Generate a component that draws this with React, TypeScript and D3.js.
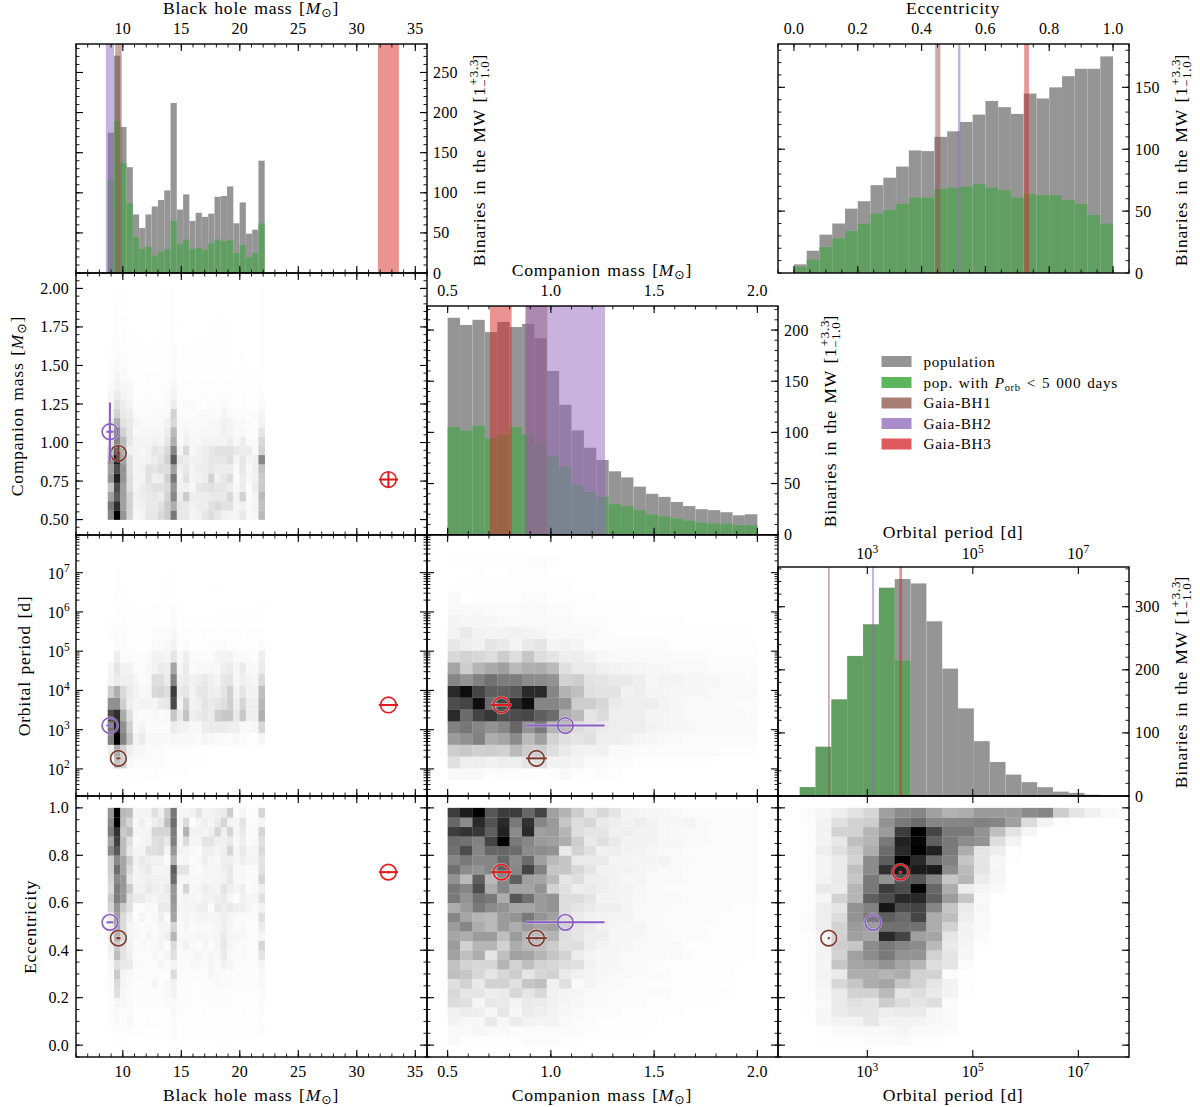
import React from "react";
import * as d3 from "d3";

// ---------- bin edges ----------
const massBins = { lo: 8.71, hi: 22.13, n: 25 };
const compBins = { lo: 0.5, hi: 2.0, n: 25 };
const periodBins = { lo: 1.72, hi: 8.02, n: 21 };
const eccBins = { lo: 0, hi: 1, n: 25 };

// ---------- 1D histograms ----------
const massPop = [175,271,182,132,73,56,73,83,91,103,212,79,98,65,75,70,74,95,96,108,62,88,49,54,140];
const massShort = [117,190,137,87,45,30,33,22,27,30,65,36,42,30,32,29,37,42,40,41,25,35,20,25,62];
const compPop = [212,205,210,198,208,203,206,192,160,127,102,85,73,62,56,47,40,37,32,28,25,24,22,19,20];
const compShort = [105.5,102,106.5,94.5,98,105.5,98,90,77.5,66.5,49,42,37,30,28,24,20,18,16,14,12,11,11,9.5,9.5];
const eccPop = [7,18,31,40,52,58,71,77,86,99,98.5,110,114.5,122,128,139,134,128.5,145,141,150,159,165,165,175];
const eccShort = [5,11,21,28,34,40,48,51,56,61,61,68,69,70,72,69,67,61,64,63,63,59,56,47,40];
const periodPop = [14,78,153,222,272,330,344,337,277,202,139,87,54,34,22,14,7,5,2,0.5];
const periodShort = [14,78,153,222,272,330,215,0,0,0,0,0,0,0,0,0,0,0,0,0];

// ---------- Gaia BH systems ----------
const bhColors = ["#7d3a2f", "#8a5cc6", "#e31a1f"];
const bandColors = ["#8c564b", "#9467bd", "#d62728"];
const legendBandColors = ["#a87d73", "#ab8ccb", "#e0595c"];
const bhMass = [9.62, 8.9, 32.7];
const bhMassErr = [0.18, 0.3, 0.82];
const bhComp = [0.93, 1.07, 0.76];
const bhCompErr = [0.05, 0.19, 0.05];
const bhLogP = [2.2686, 3.1062, 3.6288];
const bhLogPErr = [0.0002, 0.0004, 0.004];
const bhEcc = [0.451, 0.5176, 0.7291];
const bhEccErr = [0.005, 0.0022, 0.0052];
const bandMass = [[9.35, 9.91], [8.55, 9.25], [31.8, 33.6]];
const bandComp = [[0.876, 0.983], [0.88, 1.262], [0.705, 0.81]];
const bandEcc = [[0.443, 0.459], [0.514, 0.5215], [0.7216, 0.7363]];
const bandLogP = [[2.255, 2.287], [3.089, 3.127], [3.607, 3.658]];

// ---------- 2D histograms (darkness, 0–100) ----------
// mass (columns) vs companion (rows, lowest first)
const massComp = [
[55,100,50,25,6,8,15,15,22,28,60,15,14,8,10,16,20,15,10,8,8,14,5,6,35],
[60,85,45,25,8,10,14,14,18,28,40,15,14,10,12,12,18,22,18,18,8,10,5,8,32],
[45,70,45,25,10,12,14,15,12,24,55,12,28,12,12,12,14,14,14,22,8,26,4,8,35],
[30,75,45,20,8,12,15,18,18,22,50,10,10,6,15,16,18,15,15,12,6,12,3,12,28],
[50,90,50,20,8,8,18,10,12,25,60,8,18,8,10,12,25,10,15,20,4,12,6,10,28],
[45,75,50,18,8,10,18,16,20,20,45,10,15,8,12,12,15,12,12,12,4,15,5,10,32],
[50,90,45,18,8,8,10,12,16,25,70,15,12,10,10,12,15,15,15,20,8,15,8,10,55],
[35,70,40,10,8,6,10,16,14,22,55,8,22,6,10,12,14,18,18,18,14,12,12,4,25],
[20,55,35,15,8,8,8,10,8,16,40,5,10,6,6,8,8,8,8,12,6,12,4,4,22],
[15,55,25,15,5,6,6,6,6,12,35,5,8,5,5,6,6,6,10,8,4,6,3,3,15],
[15,40,18,14,8,5,5,5,5,10,22,4,5,4,5,4,6,6,10,8,5,5,3,2,8],
[10,25,14,12,4,4,3,4,5,5,25,3,3,3,4,4,4,3,8,4,3,3,2,3,8],
[6,18,12,8,3,3,3,3,3,4,12,2,4,4,3,2,3,3,4,3,2,2,1,1,4],
[6,12,8,6,2,2,3,2,2,5,8,2,2,2,2,3,2,2,3,2,1,2,1,1,3],
[4,8,6,5,2,1,2,2,3,2,6,2,2,2,2,2,2,1,2,2,1,1,1,1,2],
[3,7,4,3,1,1,2,2,2,2,4,1,1,2,1,1,1,1,1,1,1,1,1,1,2],
[3,5,4,2,1,1,1,1,1,2,4,1,1,1,1,1,1,1,1,1,1,1,1,0,1],
[2,4,3,2,1,1,1,1,1,1,3,1,1,1,1,1,1,1,1,1,0,1,0,0,1],
[2,3,2,2,1,1,1,1,1,1,3,1,1,1,1,1,1,1,1,1,0,0,0,0,1],
[1,3,2,1,1,1,0,1,1,1,2,1,0,1,1,1,1,1,1,1,0,0,0,0,1],
[1,2,2,1,1,0,0,0,1,1,2,1,0,0,0,0,1,1,1,1,0,0,0,0,1],
[1,2,2,1,0,0,0,0,1,1,2,0,0,0,0,0,1,1,1,1,0,0,0,0,1],
[1,2,1,1,0,0,0,0,1,1,2,0,0,0,0,0,0,1,1,0,0,0,0,0,1],
[1,2,1,1,0,0,0,0,1,1,2,0,0,0,0,0,0,0,0,0,0,0,0,0,1],
[1,1,1,1,0,0,0,0,1,1,2,0,0,0,0,0,0,0,0,0,0,0,0,0,1],
];
// mass vs period (rows, shortest period first)
const massPeriod = [
[0,0,2,2,2,2,2,2,1,1,1,1,1,0,0,0,0,0,0,0,0,0,0,0,0],
[2,30,25,5,3,3,3,3,3,2,2,2,2,2,1,1,0,0,0,0,0,0,0,0,0],
[10,40,25,10,6,5,3,3,3,2,2,2,2,2,1,1,1,1,1,1,1,1,1,1,1],
[55,100,55,30,8,12,5,5,5,5,6,5,5,5,4,6,5,4,3,3,5,3,2,2,6],
[60,90,50,25,5,8,3,3,3,3,12,9,8,5,5,11,12,12,12,10,10,5,5,6,22],
[75,85,40,18,5,4,4,5,4,5,28,12,30,10,12,14,12,25,28,28,13,28,10,10,38],
[50,50,25,10,6,8,8,6,12,14,75,8,25,8,10,15,12,15,18,25,10,22,10,10,35],
[25,38,20,12,8,5,6,20,22,18,80,12,15,8,13,14,10,10,15,25,8,15,8,8,32],
[8,12,10,10,6,3,4,18,18,12,55,10,12,9,10,13,10,7,14,15,6,10,8,6,20],
[6,15,8,8,3,3,5,8,12,10,42,6,12,4,5,5,6,5,10,12,6,12,5,5,12],
[2,10,3,3,2,2,3,8,8,6,15,5,10,3,3,3,3,7,8,8,4,3,3,2,10],
[1,3,3,2,1,1,1,3,4,5,8,2,3,2,2,2,2,3,3,2,1,1,1,2,3],
[2,3,3,2,1,2,2,3,3,3,6,2,2,2,1,2,2,1,2,2,2,1,2,2,2],
[2,2,2,1,1,2,2,2,2,2,3,1,1,1,1,1,1,1,1,1,1,1,1,1,1],
[0,1,1,1,1,1,1,2,2,1,3,1,0,0,0,0,0,1,1,1,1,1,1,1,2],
[0,2,1,1,0,0,0,0,1,1,1,0,0,0,0,0,0,0,0,0,0,0,0,0,0],
[0,1,1,1,0,0,0,0,1,1,1,0,0,0,0,0,1,1,1,0,0,0,0,0,0],
[0,1,0,0,0,0,0,0,0,1,1,0,0,0,0,0,0,0,0,0,0,0,0,0,0],
];
// mass vs eccentricity (rows, highest eccentricity first)
const massEcc = [
[50,100,38,35,8,8,10,20,12,30,62,8,8,10,18,8,10,12,14,28,5,8,3,3,25],
[55,100,35,25,6,12,6,12,16,35,65,8,22,3,8,12,8,14,25,10,8,18,5,5,8],
[60,85,30,35,8,8,8,25,25,25,60,6,40,10,10,8,12,25,12,25,8,15,5,5,25],
[45,80,35,20,5,8,10,20,22,15,58,8,22,8,8,18,18,12,12,15,6,12,4,6,20],
[55,72,35,15,8,8,20,20,22,8,50,10,8,6,4,12,12,8,12,25,8,15,8,8,22],
[28,55,45,28,10,15,12,10,10,5,40,6,8,4,6,12,8,6,12,12,8,12,8,8,18],
[28,65,45,22,8,12,15,8,8,10,70,18,18,6,4,8,8,8,12,15,6,6,4,5,20],
[25,55,50,15,8,10,12,10,10,10,65,8,8,6,6,8,8,8,10,15,6,6,4,5,25],
[22,60,50,30,10,10,15,12,10,15,50,6,25,6,8,12,10,8,18,12,8,12,3,6,12],
[30,60,50,20,14,14,10,8,12,12,50,6,10,8,6,10,10,12,14,8,3,10,8,8,20],
[25,50,30,20,4,4,6,4,14,14,48,8,8,8,12,12,5,15,12,15,12,12,8,5,10],
[15,48,22,12,3,8,3,6,12,5,45,6,8,6,8,8,8,8,12,8,5,5,4,5,20],
[12,45,22,8,5,4,6,4,8,8,25,5,8,5,6,6,5,8,12,8,4,6,4,4,14],
[12,40,25,8,6,3,8,5,8,12,38,6,6,6,8,8,6,8,14,8,8,6,4,4,8],
[12,30,20,10,5,6,4,5,8,4,22,5,10,6,3,8,4,8,15,8,5,5,4,4,25],
[8,35,18,12,4,4,4,6,4,8,20,5,5,6,8,5,8,6,14,6,4,5,4,4,18],
[6,20,15,15,5,4,4,4,8,5,10,4,4,6,6,5,8,5,10,8,4,4,4,4,8],
[5,30,8,6,4,4,4,4,3,3,22,4,3,3,4,3,8,5,5,4,3,3,4,2,6],
[5,22,8,5,3,3,3,8,3,6,10,3,3,2,3,3,3,6,4,5,3,3,3,3,6],
[4,20,6,5,3,3,3,3,3,6,10,3,3,2,2,3,3,3,3,3,2,2,2,2,5],
[3,8,6,4,2,3,3,3,3,5,5,3,3,2,2,2,3,3,3,3,2,2,2,2,4],
[3,5,4,4,2,2,2,2,2,2,6,2,2,2,1,2,2,2,2,2,1,2,1,1,3],
[2,5,3,6,2,1,2,2,2,1,4,1,1,1,1,1,1,1,1,1,1,1,1,1,2],
[2,3,2,2,1,2,1,1,1,1,3,1,1,1,1,1,1,1,1,1,1,1,1,1,4],
[1,2,2,1,1,1,1,1,1,1,3,1,1,1,1,1,1,1,2,1,1,1,1,1,1],
];
// companion vs period (rows, shortest period first)
const compPeriod = [
[3,3,3,1,2,2,1,1,1,3,1,1,2,1,0,0,0,0,0,0,0,0,0,0,0],
[14,8,8,7,8,8,12,14,6,6,5,3,3,2,2,1,1,1,1,1,1,0,0,0,0],
[22,24,21,22,20,30,22,22,15,10,7,6,7,3,3,2,2,2,2,2,2,2,1,1,1],
[42,46,52,35,38,48,30,40,20,14,12,14,8,8,7,5,4,3,3,2,2,2,2,2,2],
[52,56,50,45,50,62,45,55,32,30,15,12,10,8,8,8,6,5,4,4,3,3,3,3,3],
[85,60,75,80,72,72,74,65,60,35,30,12,16,8,8,8,5,5,4,3,3,3,3,3,2],
[72,75,95,60,75,85,95,50,50,45,22,22,18,10,8,8,8,6,4,3,3,3,3,2,2],
[85,95,75,65,65,68,85,85,50,33,28,14,13,13,7,8,5,5,4,4,4,3,3,3,3],
[50,45,52,58,54,54,48,48,45,20,22,13,12,10,10,8,4,6,6,4,4,4,3,3,2],
[38,22,32,36,40,30,34,35,30,14,10,10,7,6,5,5,4,4,3,3,3,2,2,2,2],
[17,20,18,15,22,15,25,15,12,8,8,6,4,3,3,3,3,3,2,2,2,1,1,1,1],
[11,8,7,12,10,5,10,12,5,6,5,2,2,2,2,2,2,2,1,1,1,1,1,1,1],
[6,10,6,5,6,7,6,5,3,3,3,3,2,1,1,1,1,1,1,1,1,1,1,1,0],
[5,4,4,4,3,3,3,3,3,3,2,2,2,1,1,1,1,1,1,0,0,0,0,0,0],
[3,3,3,2,2,2,3,3,2,2,1,1,1,1,1,0,0,0,0,0,0,0,0,0,0],
[3,0,1,1,1,1,2,2,1,1,1,1,0,0,0,0,0,0,0,0,0,0,0,0,0],
[0,1,1,1,1,1,1,1,1,1,0,0,0,0,0,0,0,0,0,0,0,0,0,0,0],
[0,0,1,0,0,1,1,1,0,0,0,0,0,0,0,0,0,0,0,0,0,0,0,0,0],
[1,1,1,1,1,1,1,2,1,0,0,0,0,0,0,0,0,0,0,0,0,0,0,0,0],
];
// companion vs eccentricity (rows, highest eccentricity first)
const compEcc = [
[78,90,100,68,78,78,62,75,40,33,22,12,17,12,6,5,4,4,3,2,2,2,2,2,2],
[62,48,85,70,85,55,82,50,42,25,15,18,10,8,6,8,6,4,4,6,3,2,2,2,2],
[78,82,80,65,88,48,85,40,42,32,15,12,12,7,8,6,6,4,3,3,3,2,2,2,2],
[60,58,52,75,100,55,50,42,40,35,22,10,14,10,6,6,6,4,4,3,3,2,2,2,2],
[58,72,50,62,62,60,48,48,45,10,20,14,7,8,6,6,4,3,3,2,2,2,2,2,2],
[50,55,50,50,62,48,60,40,30,25,10,10,10,5,5,5,5,6,3,3,2,2,2,2,2],
[58,48,45,50,65,50,75,52,25,25,18,12,7,6,6,5,4,3,3,2,2,2,2,2,2],
[45,30,65,30,50,65,40,38,30,12,15,8,8,6,4,5,3,3,3,2,2,2,2,2,2],
[55,50,72,35,50,38,38,45,20,14,8,10,8,6,6,4,3,2,2,2,2,2,2,2,2],
[55,45,58,55,35,68,58,42,45,15,16,12,6,6,5,4,3,3,3,2,2,2,2,2,2],
[35,42,55,48,45,38,38,42,45,15,12,10,8,8,5,3,3,3,2,2,2,2,2,1,1],
[50,38,32,30,42,45,55,45,40,15,10,7,6,5,6,3,3,2,2,2,2,2,1,1,1],
[42,50,35,30,42,35,42,38,40,20,12,10,7,5,4,5,3,2,2,2,2,1,1,1,1],
[38,35,42,42,28,42,32,30,32,15,12,8,8,4,4,4,3,3,2,2,2,1,1,1,1],
[42,20,32,32,20,35,30,28,22,14,15,8,6,5,4,3,3,3,3,1,1,1,1,1,1],
[40,28,35,12,28,40,38,32,25,20,9,5,4,4,3,3,3,2,3,2,1,1,1,1,1],
[27,20,18,18,32,20,28,20,18,15,14,6,4,4,3,3,2,1,1,1,1,1,1,1,0],
[28,25,18,12,18,22,12,18,20,10,7,5,4,3,3,2,2,2,1,1,1,1,1,0,0],
[14,20,10,20,20,14,25,28,7,14,3,5,3,3,2,2,1,1,1,1,1,1,0,0,0],
[17,12,12,8,10,18,12,17,7,5,5,3,3,2,2,2,2,2,1,1,1,1,1,0,0],
[16,14,5,11,10,6,10,9,7,5,4,3,3,2,2,2,1,1,1,1,1,1,0,0,0],
[7,9,8,4,11,4,9,8,6,4,3,2,2,2,1,1,1,1,1,0,0,0,0,0,0],
[6,4,4,10,4,9,6,5,6,3,2,2,1,1,1,1,1,0,0,0,0,0,0,0,0],
[3,3,4,3,3,2,2,2,2,2,2,1,1,1,1,1,0,0,0,0,0,0,0,0,0],
[3,1,1,1,1,1,2,2,2,1,1,0,0,0,0,0,0,0,0,0,0,0,0,0,0],
];
// period vs eccentricity (rows, highest eccentricity first)
const periodEcc = [
[2,4,8,13,18,40,48,50,40,33,35,42,42,42,48,50,22,12,7,3,2],
[1,6,14,20,22,45,55,60,50,50,50,52,50,40,16,6,1,0,0,0,0],
[1,6,20,20,32,42,78,100,75,55,55,45,28,13,5,0,0,0,0,0,0],
[1,6,11,28,32,55,88,98,65,55,48,45,15,6,0,0,0,0,0,0,0],
[1,8,14,22,35,60,85,100,88,55,35,12,8,1,0,0,0,0,0,0,0],
[1,5,10,20,48,65,100,85,60,52,25,12,4,1,0,0,0,0,0,0,0],
[1,5,10,28,48,82,90,90,90,48,30,12,5,0,0,0,0,0,0,0,0],
[1,6,10,25,55,45,70,68,50,25,32,9,4,0,0,0,0,0,0,0,0],
[1,10,9,32,55,78,72,98,62,35,9,5,3,0,0,0,0,0,0,0,0],
[1,5,20,32,65,72,85,85,65,42,25,3,0,0,0,0,0,0,0,0,0],
[1,8,12,45,52,92,72,75,50,25,10,4,0,0,0,0,0,0,0,0,0],
[2,8,16,45,55,65,60,75,35,28,8,3,0,0,0,0,0,0,0,0,0],
[2,8,20,42,42,58,58,58,35,20,6,3,0,0,0,0,0,0,0,0,0],
[1,6,20,40,38,85,75,40,38,12,6,2,0,0,0,0,0,0,0,0,0],
[1,6,22,25,48,55,50,48,30,10,5,1,0,0,0,0,0,0,0,0,0],
[1,6,20,40,48,55,45,45,20,12,4,0,0,0,0,0,0,0,0,0,0],
[1,5,25,38,40,45,38,32,15,12,2,0,0,0,0,0,0,0,0,0,0],
[1,6,10,35,35,32,35,20,20,2,0,0,0,0,0,0,0,0,0,0,0],
[1,5,18,25,35,38,25,20,12,6,1,0,0,0,0,0,0,0,0,0,0],
[1,4,10,20,20,30,12,15,10,6,1,0,0,0,0,0,0,0,0,0,0],
[1,3,10,14,12,22,16,12,15,2,0,0,0,0,0,0,0,0,0,0,0],
[1,4,10,12,12,8,10,10,4,3,0,0,0,0,0,0,0,0,0,0,0],
[0,4,6,6,11,6,6,6,4,3,0,0,0,0,0,0,0,0,0,0,0],
[0,1,3,3,3,3,5,3,3,2,0,0,0,0,0,0,0,0,0,0,0],
[0,1,1,1,2,2,3,1,1,0,0,0,0,0,0,0,0,0,0,0,0],
];

// ---------- tick labels ----------
const massTicks = [10, 15, 20, 25, 30, 35];
const compTicks = [0.5, 1.0, 1.5, 2.0];
const compYTicks = [0.5, 0.75, 1.0, 1.25, 1.5, 1.75, 2.0];
const eccTicks = [0, 0.2, 0.4, 0.6, 0.8, 1.0];
const periodXTicks = [3, 5, 7];
const periodYTicks = [2, 3, 4, 5, 6, 7];
const legendLabels = ["population", "pop. with", "Gaia-BH1", "Gaia-BH2", "Gaia-BH3"];

// ---------- layout ----------
const FONT = "'Liberation Serif', 'DejaVu Serif', serif";
const colX = [76, 427, 778];
const W = 351;
const rowEdges = [44, 273, 535, 796, 1057];

const xMass = d3.scaleLinear().domain([6, 36]).range([colX[0], colX[0] + W]);
const xComp = d3.scaleLinear().domain([0.4, 2.1]).range([colX[1], colX[1] + W]);
const xEcc = d3.scaleLinear().domain([-0.05, 1.05]).range([colX[2], colX[2] + W]);
const xPeriod = d3.scaleLinear().domain([1.307, 7.96]).range([colX[2], colX[2] + W]);
const yComp = d3.scaleLinear().domain([0.4, 2.1]).range([rowEdges[2], rowEdges[1]]);
const yPeriod = d3.scaleLinear().domain([1.31, 7.96]).range([rowEdges[3], rowEdges[2]]);
const yEcc = d3.scaleLinear().domain([-0.05, 1.05]).range([rowEdges[4], rowEdges[3]]);

type S = d3.ScaleLinear<number, number>;
const edges = (b: { lo: number; hi: number; n: number }) =>
  d3.range(b.n + 1).map((i) => b.lo + ((b.hi - b.lo) * i) / b.n);

const inRange = (s: S, v: number) => v >= s.domain()[0] && v <= s.domain()[1];
const linMinor = (s: S, step: number) =>
  d3.range(Math.ceil(s.domain()[0] / step), Math.floor(s.domain()[1] / step) + 1).map((k) => k * step);
const logMinor = (s: S) =>
  d3.range(1, 9).flatMap((d) => d3.range(2, 10).map((m) => d + Math.log10(m))).filter((v) => inRange(s, v));

function Frame({ x, y, xMajor, xMinor, yMajor, yMinor }: { x: S; y: S; xMajor: number[]; xMinor: number[]; yMajor: number[]; yMinor: number[] }) {
  const [l, r] = x.range();
  const [b, t] = y.range();
  const ln = (k: string, x1: number, y1: number, x2: number, y2: number, sw: number) => (
    <line key={k} x1={x1} y1={y1} x2={x2} y2={y2} stroke="#000" strokeWidth={sw} />
  );
  const out: React.ReactNode[] = [];
  xMajor.forEach((v, i) => {
    out.push(ln(`xa${i}`, x(v), b, x(v), b - 7, 1.1), ln(`xb${i}`, x(v), t, x(v), t + 7, 1.1));
  });
  xMinor.forEach((v, i) => {
    out.push(ln(`xc${i}`, x(v), b, x(v), b - 3.5, 0.9), ln(`xd${i}`, x(v), t, x(v), t + 3.5, 0.9));
  });
  yMajor.forEach((v, i) => {
    out.push(ln(`ya${i}`, l, y(v), l + 7, y(v), 1.1), ln(`yb${i}`, r, y(v), r - 7, y(v), 1.1));
  });
  yMinor.forEach((v, i) => {
    out.push(ln(`yc${i}`, l, y(v), l + 3.5, y(v), 0.9), ln(`yd${i}`, r, y(v), r - 3.5, y(v), 0.9));
  });
  return (
    <g>
      {out}
      <rect x={l} y={t} width={r - l} height={b - t} fill="none" stroke="#000" strokeWidth={1.4} />
    </g>
  );
}

function Heat({ x, y, xb, yb, rows, gamma = 1.08 }: { x: S; y: S; xb: number[]; yb: number[]; rows: number[][]; gamma?: number }) {
  const gray = d3.scalePow().exponent(gamma).domain([0, 100]).range([255, 0]);
  const cells: React.ReactNode[] = [];
  const [, xMax] = x.range();
  rows.forEach((row, j) =>
    row.forEach((v, i) => {
      if (v <= 0) return;
      const c = Math.round(gray(v));
      const x0 = x(xb[i]);
      const x1 = Math.min(x(xb[i + 1]), xMax);
      cells.push(
        <rect key={`${i}-${j}`} x={x0} y={y(yb[j + 1])} width={x1 - x0 + 0.25} height={y(yb[j]) - y(yb[j + 1]) + 0.25} fill={`rgb(${c},${c},${c})`} />
      );
    })
  );
  return <g>{cells}</g>;
}

function Bars({ x, y, xb, values, fill }: { x: S; y: S; xb: number[]; values: number[]; fill: string }) {
  return (
    <g>
      {values.map((v, i) =>
        v > 0 ? (
          <rect key={i} x={x(xb[i])} y={y(v)} width={x(xb[i + 1]) - x(xb[i])} height={y(0) - y(v)} fill={fill} stroke="#fff" strokeOpacity={0.1} strokeWidth={0.5} />
        ) : null
      )}
    </g>
  );
}

function Bands({ x, y, bands }: { x: S; y: S; bands: number[][] }) {
  return (
    <g>
      {bands.map((b, i) => (
        <rect key={i} x={x(b[0])} width={x(b[1]) - x(b[0])} y={y.range()[1]} height={y.range()[0] - y.range()[1]} fill={bandColors[i]} opacity={0.5} />
      ))}
    </g>
  );
}

function Markers({ x, y, xv, yv, xe, ye }: { x: S; y: S; xv: number[]; yv: number[]; xe: number[]; ye: number[] }) {
  return (
    <g>
      {xv.map((_, i) => {
        const cx = x(xv[i]);
        const cy = y(yv[i]);
        const segs = (stroke: string, sw: number, op: number) => (
          <g stroke={stroke} fill="none" opacity={op}>
            <line x1={x(xv[i] - xe[i])} x2={x(xv[i] + xe[i])} y1={cy} y2={cy} strokeWidth={sw + 0.4} />
            <line x1={cx} x2={cx} y1={y(yv[i] - ye[i])} y2={y(yv[i] + ye[i])} strokeWidth={sw + 0.4} />
            <circle cx={cx} cy={cy} r={7.8} strokeWidth={sw} />
          </g>
        );
        return (
          <g key={i}>
            {segs("#fff", 3, 0.45)}
            {segs(bhColors[i], 1.65, 1)}
          </g>
        );
      })}
    </g>
  );
}

const Sun = ({ fs }: { fs: number }) => (
  <>
    {"["}
    <tspan fontStyle="italic">M</tspan>
    <tspan fontSize={fs * 0.72} dy={fs * 0.18} fontFamily="'DejaVu Sans'">⊙</tspan>
    <tspan dy={-fs * 0.18}>]</tspan>
  </>
);

const LFS = 17.6;
const TFS = 16;

function XTitle({ x, y, children }: { x: number; y: number; children: React.ReactNode }) {
  return (
    <text x={x} y={y} textAnchor="middle" fontSize={LFS} letterSpacing={0.75} wordSpacing={1.5} fontFamily={FONT}>
      {children}
    </text>
  );
}
function YTitle({ x, y, children }: { x: number; y: number; children: React.ReactNode }) {
  return (
    <text transform={`translate(${x},${y}) rotate(-90)`} textAnchor="middle" fontSize={LFS} letterSpacing={0.75} wordSpacing={1.5} fontFamily={FONT}>
      {children}
    </text>
  );
}
const Tick = ({ x, y, anchor, children }: { x: number; y: number; anchor: string; children: React.ReactNode }) => (
  <text x={x} y={y} textAnchor={anchor as any} fontSize={TFS} letterSpacing={0.2} fontFamily={FONT}>
    {children}
  </text>
);

function BinariesTitle({ x, y }: { x: number; y: number }) {
  const s = 13;
  const w = 1.814 * s + 4 * 0.75;
  return (
    <YTitle x={x} y={y}>
      {"Binaries in the MW [1"}
      <tspan fontSize={s} dy={-7} dx={1}>+3.3</tspan>
      <tspan fontSize={s} dy={11} dx={-w - 1.6}>−1.0</tspan>
      <tspan dy={-4}>]</tspan>
    </YTitle>
  );
}

const topX = (ticks: number[], x: S, fmt: (v: number) => string, y: number) =>
  ticks.map((v) => <Tick key={v} x={x(v)} y={y} anchor="middle">{fmt(v)}</Tick>);
const botX = (ticks: number[], x: S, fmt: (v: number) => string) =>
  ticks.map((v) => <Tick key={v} x={x(v)} y={1077} anchor="middle">{fmt(v)}</Tick>);
const Pow = ({ x, y, e, anchor }: { x: number; y: number; e: number; anchor: string }) => (
  <Tick x={x} y={y} anchor={anchor}>
    10<tspan fontSize={11.5} dy={-6.5}>{e}</tspan>
  </Tick>
);

export default function App() {
  const mB = edges(massBins);
  const cB = edges(compBins);
  const pB = edges(periodBins);
  const eB = edges(eccBins);

  const yH1 = d3.scaleLinear().domain([0, 285.5]).range([273, 44]);
  const yH2 = d3.scaleLinear().domain([0, 223.5]).range([534.7, 306]);
  const yH3 = d3.scaleLinear().domain([0, 185]).range([273, 44]);
  const yH4 = d3.scaleLinear().domain([0, 363]).range([796, 567]);

  const massMinor = linMinor(xMass, 1);
  const compMinor = linMinor(xComp, 0.1);
  const eccMinor = linMinor(xEcc, 0.05);
  const eccMinorY = linMinor(yEcc, 0.05);
  const compYMinor = linMinor(yComp, 0.05);
  const pYMinor = logMinor(yPeriod);

  const topDown = (r: number[][]) => r.slice().reverse();
  const legendY = [356, 377, 397.5, 418, 438.5];
  const legendFill = ["#949494", "#5cb65d", ...legendBandColors];

  return (
    <svg width={1200} height={1107} style={{ position: "absolute", left: 0, top: 0, background: "#fff" }} fontFamily={FONT}>
      {/* top histograms */}
      <Bars x={xMass} y={yH1} xb={mB} values={massPop} fill="#959595" />
      <Bars x={xMass} y={yH1} xb={mB} values={massShort} fill="#609f61" />
      <Bands x={xMass} y={yH1} bands={bandMass} />
      <Frame x={xMass} y={yH1} xMajor={massTicks} xMinor={massMinor} yMajor={[50, 100, 150, 200, 250]} yMinor={linMinor(yH1, 10)} />

      <Bars x={xComp} y={yH2} xb={cB} values={compPop} fill="#959595" />
      <Bars x={xComp} y={yH2} xb={cB} values={compShort} fill="#609f61" />
      <Bands x={xComp} y={yH2} bands={bandComp} />
      <Frame x={xComp} y={yH2} xMajor={compTicks} xMinor={compMinor} yMajor={[50, 100, 150, 200]} yMinor={linMinor(yH2, 10)} />

      <Bars x={xEcc} y={yH3} xb={eB} values={eccPop} fill="#959595" />
      <Bars x={xEcc} y={yH3} xb={eB} values={eccShort} fill="#609f61" />
      <Bands x={xEcc} y={yH3} bands={bandEcc} />
      <Frame x={xEcc} y={yH3} xMajor={eccTicks} xMinor={eccMinor} yMajor={[50, 100, 150]} yMinor={linMinor(yH3, 10)} />

      <Bars x={xPeriod} y={yH4} xb={pB} values={periodPop} fill="#959595" />
      <Bars x={xPeriod} y={yH4} xb={pB} values={periodShort} fill="#609f61" />
      <Bands x={xPeriod} y={yH4} bands={bandLogP} />
      <Frame x={xPeriod} y={yH4} xMajor={periodXTicks} xMinor={[]} yMajor={[100, 200, 300]} yMinor={linMinor(yH4, 20)} />

      {/* 2D panels */}
      <Heat x={xMass} y={yComp} xb={mB} yb={cB} rows={massComp} gamma={1.25} />
      <Markers x={xMass} y={yComp} xv={bhMass} yv={bhComp} xe={bhMassErr} ye={bhCompErr} />
      <Frame x={xMass} y={yComp} xMajor={massTicks} xMinor={massMinor} yMajor={compYTicks} yMinor={compYMinor} />

      <Heat x={xMass} y={yPeriod} xb={mB} yb={pB} rows={massPeriod} gamma={1.2} />
      <Markers x={xMass} y={yPeriod} xv={bhMass} yv={bhLogP} xe={bhMassErr} ye={bhLogPErr} />
      <Frame x={xMass} y={yPeriod} xMajor={massTicks} xMinor={massMinor} yMajor={periodYTicks} yMinor={pYMinor} />

      <Heat x={xMass} y={yEcc} xb={mB} yb={eB} rows={topDown(massEcc)} gamma={1.3} />
      <Markers x={xMass} y={yEcc} xv={bhMass} yv={bhEcc} xe={bhMassErr} ye={bhEccErr} />
      <Frame x={xMass} y={yEcc} xMajor={massTicks} xMinor={massMinor} yMajor={eccTicks} yMinor={eccMinorY} />

      <Heat x={xComp} y={yPeriod} xb={cB} yb={pB} rows={compPeriod} />
      <Markers x={xComp} y={yPeriod} xv={bhComp} yv={bhLogP} xe={bhCompErr} ye={bhLogPErr} />
      <Frame x={xComp} y={yPeriod} xMajor={compTicks} xMinor={compMinor} yMajor={periodYTicks} yMinor={pYMinor} />

      <Heat x={xComp} y={yEcc} xb={cB} yb={eB} rows={topDown(compEcc)} />
      <Markers x={xComp} y={yEcc} xv={bhComp} yv={bhEcc} xe={bhCompErr} ye={bhEccErr} />
      <Frame x={xComp} y={yEcc} xMajor={compTicks} xMinor={compMinor} yMajor={eccTicks} yMinor={eccMinorY} />

      <Heat x={xPeriod} y={yEcc} xb={pB} yb={eB} rows={topDown(periodEcc)} />
      <Markers x={xPeriod} y={yEcc} xv={bhLogP} yv={bhEcc} xe={bhLogPErr} ye={bhEccErr} />
      <Frame x={xPeriod} y={yEcc} xMajor={periodXTicks} xMinor={[]} yMajor={eccTicks} yMinor={eccMinorY} />

      {/* top axis labels */}
      <XTitle x={251} y={14}>Black hole mass <Sun fs={LFS} /></XTitle>
      {topX(massTicks, xMass, String, 34)}
      <XTitle x={602} y={276}>Companion mass <Sun fs={LFS} /></XTitle>
      {topX(compTicks, xComp, (v) => v.toFixed(1), 296)}
      <XTitle x={953} y={14}>Eccentricity</XTitle>
      {topX(eccTicks, xEcc, (v) => v.toFixed(1), 34)}
      <XTitle x={953} y={538}>Orbital period [d]</XTitle>
      {periodXTicks.map((e) => <Pow key={e} x={xPeriod(e)} y={559} e={e} anchor="middle" />)}

      {/* right histogram axes */}
      {[0, 50, 100, 150, 200, 250].map((v) => <Tick key={v} x={433} y={yH1(v) + 5.5} anchor="start">{v}</Tick>)}
      <BinariesTitle x={485} y={160} />
      {[0, 50, 100, 150, 200].map((v) => <Tick key={v} x={784} y={yH2(v) + 5.5} anchor="start">{v}</Tick>)}
      <BinariesTitle x={836} y={421} />
      {[0, 50, 100, 150].map((v) => <Tick key={v} x={1135} y={yH3(v) + 5.5} anchor="start">{v}</Tick>)}
      <BinariesTitle x={1187} y={160} />
      {[0, 100, 200, 300].map((v) => <Tick key={v} x={1135} y={yH4(v) + 5.5} anchor="start">{v}</Tick>)}
      <BinariesTitle x={1187} y={682} />

      {/* left axes */}
      {compYTicks.map((v) => <Tick key={v} x={69} y={yComp(v) + 5.5} anchor="end">{v.toFixed(2)}</Tick>)}
      <YTitle x={23} y={406}>Companion mass <Sun fs={LFS} /></YTitle>
      {periodYTicks.map((e) => <Pow key={e} x={70} y={yPeriod(e) + 6} e={e} anchor="end" />)}
      <YTitle x={30} y={666}>Orbital period [d]</YTitle>
      {eccTicks.map((v) => <Tick key={v} x={69} y={yEcc(v) + 5.5} anchor="end">{v.toFixed(1)}</Tick>)}
      <YTitle x={36} y={927}>Eccentricity</YTitle>

      {/* bottom axes */}
      {botX(massTicks, xMass, String)}
      <XTitle x={251} y={1101}>Black hole mass <Sun fs={LFS} /></XTitle>
      {botX(compTicks, xComp, (v) => v.toFixed(1))}
      <XTitle x={602} y={1101}>Companion mass <Sun fs={LFS} /></XTitle>
      {periodXTicks.map((e) => <Pow key={e} x={xPeriod(e)} y={1077} e={e} anchor="middle" />)}
      <XTitle x={953} y={1101}>Orbital period [d]</XTitle>

      {/* legend */}
      {legendFill.map((c, i) => (
        <rect key={c} x={881.5} y={legendY[i]} width={30} height={11} fill={c} />
      ))}
      {legendLabels.map((t, i) => (
        <text key={t} x={923.5} y={legendY[i] + 10.5} fontSize={15.2} letterSpacing={0.7} wordSpacing={1.5} fontFamily={FONT}>
          {t}
          {i === 1 ? (
            <>
              {" "}
              <tspan fontStyle="italic">P</tspan>
              <tspan fontSize={10.5} dy={3}>orb</tspan>
              <tspan dy={-3}> &lt; 5 000 days</tspan>
            </>
          ) : null}
        </text>
      ))}
    </svg>
  );
}
